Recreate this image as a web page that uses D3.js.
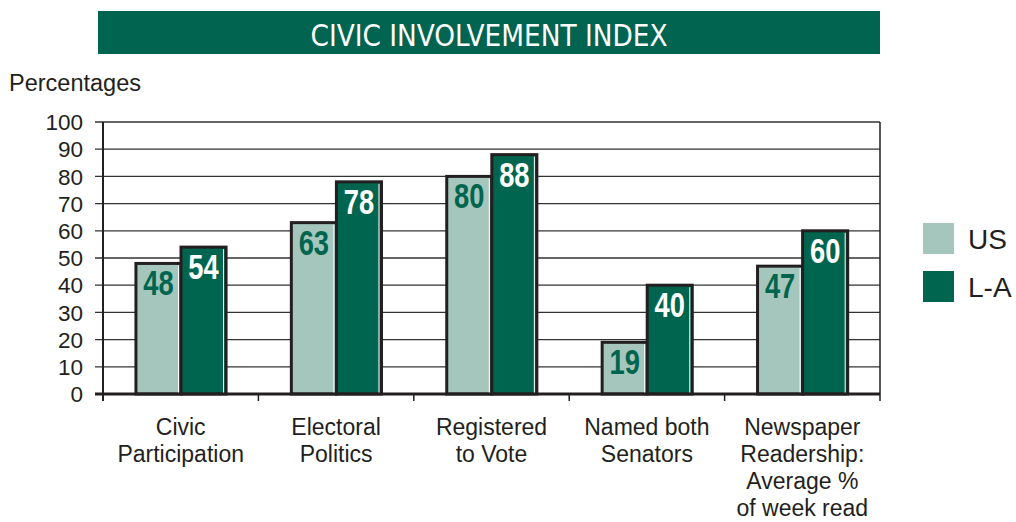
<!DOCTYPE html>
<html>
<head>
<meta charset="utf-8">
<script src="https://cdn.jsdelivr.net/npm/d3@7/dist/d3.min.js"></script>
<style>
  html, body { margin: 0; padding: 0; background: #fff; }
  svg { display: block; }
  .sans { font-family: "Liberation Sans", Arial, Helvetica, sans-serif; fill: #231f20; }
  .num { font-family: "Liberation Sans", Arial, sans-serif; font-weight: bold; }
</style>
</head>
<body>
<svg id="chart" width="1016" height="522"></svg>
<script>
// Chart data
const title = "CIVIC INVOLVEMENT INDEX";
const yLabel = "Percentages";
const categories = [
  ["Civic", "Participation"],
  ["Electoral", "Politics"],
  ["Registered", "to Vote"],
  ["Named both", "Senators"],
  ["Newspaper", "Readership:", "Average %", "of week read"]
];
const seriesNames = ["US", "L-A"];
const usValues = [48, 63, 80, 19, 47];
const laValues = [54, 78, 88, 40, 60];
const yTicks = [0, 10, 20, 30, 40, 50, 60, 70, 80, 90, 100];

const DARK = "#00654e";
const LIGHT = "#a5c6bc";
const INK = "#231f20";

const svg = d3.select("#chart");

// Title banner
svg.append("rect")
  .attr("x", 98).attr("y", 11).attr("width", 782).attr("height", 43)
  .attr("fill", "#006450");
svg.append("text")
  .attr("x", 489).attr("y", 46)
  .attr("text-anchor", "middle")
  .attr("fill", "#fff")
  .attr("font-family", "'DejaVu Sans Condensed', 'DejaVu Sans', sans-serif")
  .attr("font-stretch", "condensed")
  .attr("font-weight", 300)
  .attr("font-size", 30)
  .attr("textLength", 357)
  .attr("lengthAdjust", "spacingAndGlyphs")
  .text(title);

// Scales
const plot = { left: 103, right: 880, top: 122, bottom: 394 };
const x0 = d3.scaleBand().domain(d3.range(categories.length))
  .range([plot.left, plot.right]).paddingInner(0).paddingOuter(0);
const bw = x0.bandwidth();
const x1 = d3.scaleBand().domain(seriesNames)
  .range([bw * 0.212, bw * 0.792]).padding(0);
const y = d3.scaleLinear().domain([0, 100]).range([plot.bottom, plot.top]);

// Gridlines + left ticks
svg.append("g").selectAll("line").data(yTicks.filter(t => t > 0)).join("line")
  .attr("x1", plot.left - 8).attr("x2", plot.right)
  .attr("y1", d => y(d)).attr("y2", d => y(d))
  .attr("stroke", "#333").attr("stroke-width", 1.3);

// Y axis labels
svg.append("g").selectAll("text").data(yTicks).join("text")
  .attr("class", "sans")
  .attr("x", 83).attr("y", d => y(d)).attr("dy", "0.36em")
  .attr("text-anchor", "end").attr("font-size", 22.5)
  .text(d => d);

svg.append("text").attr("class", "sans")
  .attr("x", 9).attr("y", 91).attr("font-size", 23.5)
  .text(yLabel);

// Right border
svg.append("line")
  .attr("x1", plot.right).attr("x2", plot.right)
  .attr("y1", plot.top).attr("y2", plot.bottom + 7)
  .attr("stroke", INK).attr("stroke-width", 1.5);

// Bars
const rows = categories.map((c, i) => ({
  i,
  vals: [
    { s: "US", v: usValues[i] },
    { s: "L-A", v: laValues[i] }
  ]
}));

const groups = svg.append("g").selectAll("g").data(rows).join("g")
  .attr("transform", d => `translate(${x0(d.i)},0)`);

const bars = groups.selectAll("g.bar").data(d => d.vals).join("g").attr("class", "bar");

bars.append("rect")
  .attr("x", d => x1(d.s))
  .attr("y", d => y(d.v))
  .attr("width", x1.bandwidth())
  .attr("height", d => y(0) - y(d.v))
  .attr("fill", d => d.s === "US" ? LIGHT : DARK)
  .attr("stroke", INK).attr("stroke-width", 3);

// thin highlight inside the right edge of each bar
bars.append("line")
  .attr("x1", d => x1(d.s) + x1.bandwidth() - 2.5)
  .attr("x2", d => x1(d.s) + x1.bandwidth() - 2.5)
  .attr("y1", d => y(d.v) + 2)
  .attr("y2", y(0))
  .attr("stroke", "#fff").attr("stroke-width", 1);

// value labels in a condensed bold face
bars.append("text")
  .attr("class", "num")
  .attr("transform", d => `translate(${x1(d.s) + x1.bandwidth() / 2},${y(d.v) + 32}) scale(0.78,1)`)
  .attr("text-anchor", "middle")
  .attr("font-size", 35)
  .attr("fill", d => d.s === "US" ? DARK : "#fff")
  .text(d => d.v);

// Axes lines
svg.append("line")
  .attr("x1", plot.left).attr("x2", plot.left)
  .attr("y1", plot.top).attr("y2", plot.bottom + 7)
  .attr("stroke", INK).attr("stroke-width", 2);
svg.append("line")
  .attr("x1", plot.left - 8).attr("x2", plot.right)
  .attr("y1", plot.bottom).attr("y2", plot.bottom)
  .attr("stroke", INK).attr("stroke-width", 3);

// Category ticks at band boundaries
svg.append("g").selectAll("line").data(d3.range(1, categories.length)).join("line")
  .attr("x1", d => x0(d)).attr("x2", d => x0(d))
  .attr("y1", plot.bottom).attr("y2", plot.bottom + 7)
  .attr("stroke", INK).attr("stroke-width", 1.5);

// Category labels
const catLabels = svg.append("g").selectAll("text").data(rows).join("text")
  .attr("class", "sans")
  .attr("text-anchor", "middle")
  .attr("font-size", 23)
  .attr("transform", d => `translate(${x0(d.i) + bw / 2},435)`);
catLabels.selectAll("tspan").data(d => categories[d.i]).join("tspan")
  .attr("x", 0).attr("y", (d, k) => k * 27)
  .text(d => d);

// Legend
const legend = svg.append("g").selectAll("g").data(seriesNames).join("g")
  .attr("transform", (d, k) => `translate(923,${223 + k * 48})`);
legend.append("rect")
  .attr("width", 31).attr("height", 31)
  .attr("fill", d => d === "US" ? LIGHT : DARK);
legend.append("text").attr("class", "sans")
  .attr("x", 45).attr("y", 26).attr("font-size", 28)
  .text(d => d);
</script>
</body>
</html>
